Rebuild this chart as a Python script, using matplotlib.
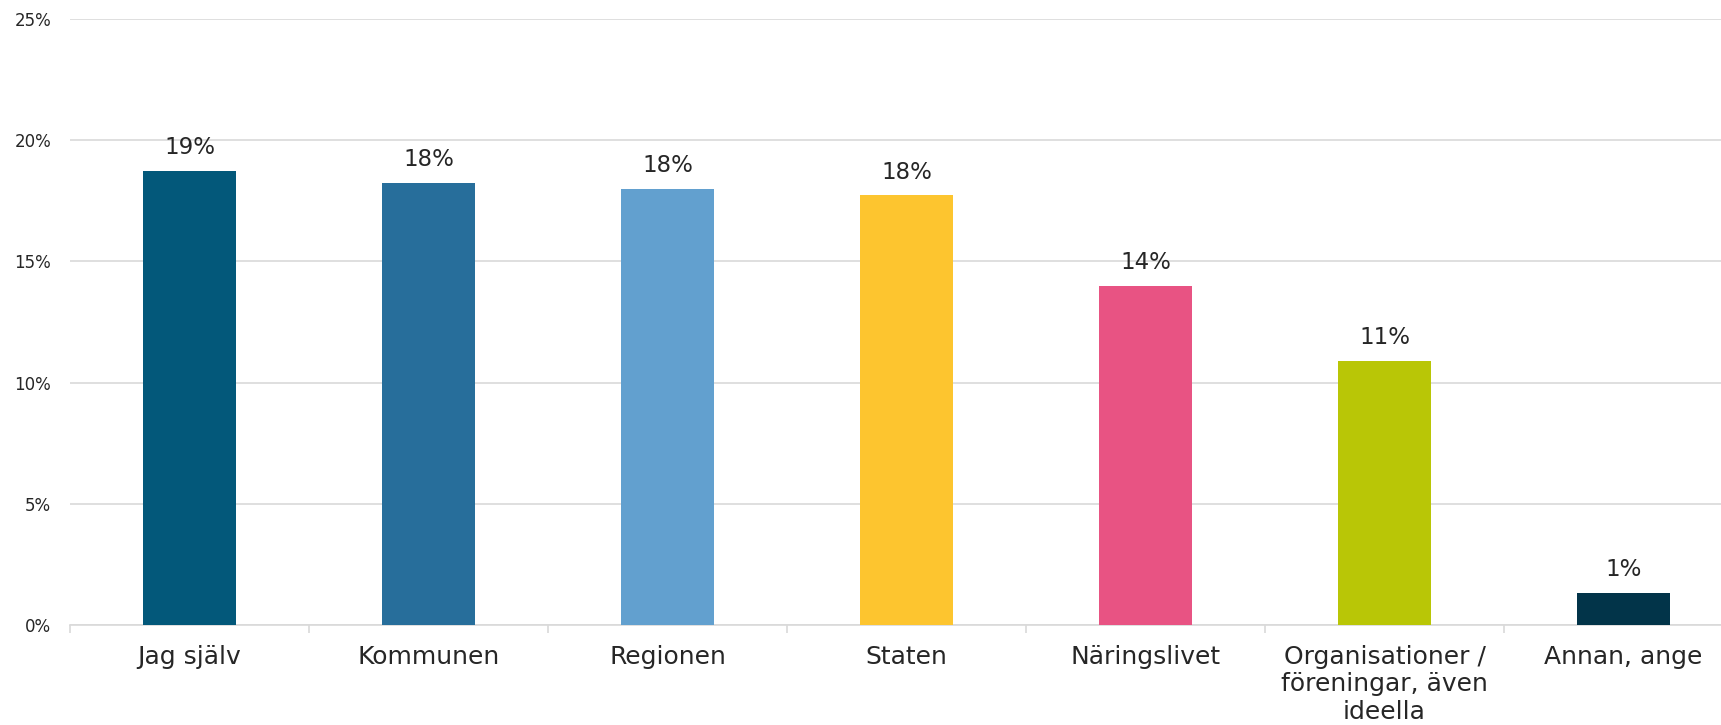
import matplotlib.pyplot as plt
from matplotlib.ticker import FixedLocator

# data
categories = ["Jag själv", "Kommunen", "Regionen", "Staten", "Näringslivet",
              "Organisationer /\nföreningar, även\nideella", "Annan, ange"]
values = [18.73, 18.25, 18.0, 17.72, 14.0, 10.89, 1.33]
labels = ["19%", "18%", "18%", "18%", "14%", "11%", "1%"]
colors = ["#03587A", "#276E9B", "#62A0CF", "#FDC52F", "#E85383", "#B9C606", "#023449"]
yticks = [0, 5, 10, 15, 20, 25]

plt.rcParams['font.family'] = ['DejaVu Sans']
text_color = "#262626"
grid_color = "#D9D9D9"

fig = plt.figure(figsize=(17.21, 7.25), dpi=100)
ax = fig.add_axes([70 / 1721, 100 / 725, 1673 / 1721, 606 / 725])

x = range(len(categories))
bars = ax.bar(x, values, width=0.385, color=colors, zorder=3)

for b, lab in zip(bars, labels):
    ax.annotate(lab, (b.get_x() + b.get_width() / 2, b.get_height()),
                xytext=(0, 12), textcoords="offset points",
                ha="center", va="baseline", fontsize=16.5, color=text_color)

ax.set_xlim(-0.5, len(categories) - 0.5)
ax.set_ylim(0, 25)
ax.set_yticks(yticks)
ax.set_yticklabels([f"{t}%" for t in yticks])
ax.yaxis.grid(True, color=grid_color, linewidth=1.2, zorder=0)
ax.tick_params(axis="y", length=0, pad=13.5, labelsize=12, labelcolor=text_color)

ax.set_xticks(list(x))
ax.set_xticklabels(categories, fontsize=18, color=text_color, linespacing=1.17)
ax.tick_params(axis="x", which="major", length=0, pad=14.5)
ax.xaxis.set_minor_locator(FixedLocator([i - 0.5 for i in range(len(categories) + 1)]))
ax.tick_params(axis="x", which="minor", length=6, width=1.2, color=grid_color)

for s in ["top", "right", "left"]:
    ax.spines[s].set_visible(False)
ax.spines["bottom"].set_color(grid_color)
ax.spines["bottom"].set_linewidth(1.2)

fig.savefig("out.png", dpi=100)
